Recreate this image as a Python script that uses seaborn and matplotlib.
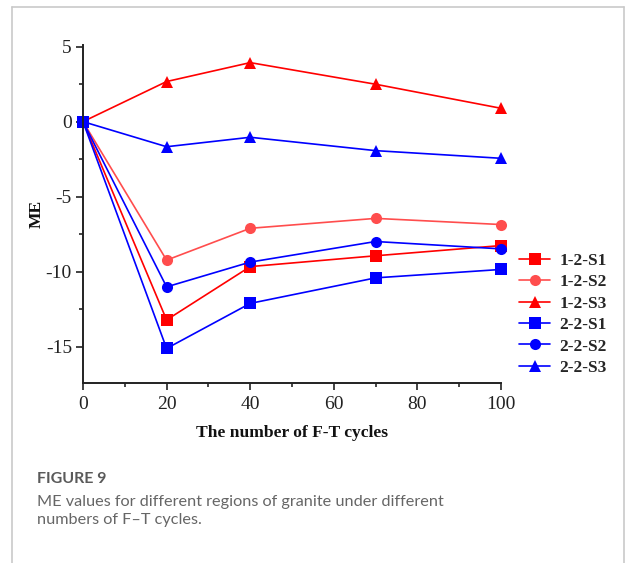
import numpy as np
import pandas as pd
import matplotlib
matplotlib.use("Agg")
import matplotlib.pyplot as plt
import seaborn as sns
from matplotlib.lines import Line2D
from matplotlib.ticker import MultipleLocator

# ---- data ----
cycles = [0, 20, 40, 70, 100]
s_12_S1 = [0, -13.2, -9.65, -8.93, -8.25]
s_12_S2 = [0, -9.22, -7.1, -6.44, -6.85]
s_12_S3 = [0, 2.67, 3.93, 2.49, 0.89]
s_22_S1 = [0, -15.1, -12.1, -10.4, -9.84]
s_22_S2 = [0, -11.0, -9.35, -7.98, -8.47]
s_22_S3 = [0, -1.67, -1.04, -1.93, -2.44]
labels = ["1-2-S1", "1-2-S2", "1-2-S3", "2-2-S1", "2-2-S2", "2-2-S3"]
series = [s_12_S1, s_12_S2, s_12_S3, s_22_S1, s_22_S2, s_22_S3]
x_ticks = [0, 20, 40, 60, 80, 100]
y_ticks = [5, 0, -5, -10, -15]
x_label = "The number of F-T cycles"
y_label = "ME"
fig_title = "FIGURE 9"
caption = "ME values for different regions of granite under different\nnumbers of F\u2013T cycles."

colors = ["#ff0000", "#ff4d4d", "#ff0000", "#0000ff", "#0000ff", "#0000ff"]
markers = ["s", "o", "^", "s", "o", "^"]

sns.set_style("ticks")
plt.rcParams["font.family"] = ["Liberation Serif", "DejaVu Serif"]
plt.rcParams["axes.unicode_minus"] = False

fig = plt.figure(figsize=(6.25, 5.63), dpi=100)
ax = fig.add_axes([0.1328, 0.3197, 0.8016 - 0.1328, 0.920 - 0.3197])

rows = []
for lab, vals in zip(labels, series):
    for c, v in zip(cycles, vals):
        rows.append({"cycles": c, "ME": v, "series": lab})
df = pd.DataFrame(rows)

for lab, col, mk in zip(labels, colors, markers):
    sub = df[df["series"] == lab]
    sns.lineplot(data=sub, x="cycles", y="ME", ax=ax, color=col, marker=mk,
                 markersize=8, markeredgewidth=0, linewidth=1.2,
                 label=lab, clip_on=False, legend=False)

ax.set_xlim(0, 100)
ax.set_ylim(-17.4, 5.1)
ax.set_xticks(x_ticks)
ax.set_yticks(y_ticks)
ax.xaxis.set_minor_locator(MultipleLocator(10))
ax.yaxis.set_minor_locator(MultipleLocator(2.5))
ax.tick_params(axis="both", which="major", direction="out", length=5, width=1.2,
               labelsize=14, colors="#222222", pad=3)
ax.tick_params(axis="x", which="major", pad=4)
ax.tick_params(axis="both", which="minor", direction="out", length=3, width=1.2)
for s in ["top", "right"]:
    ax.spines[s].set_visible(False)
for s in ["left", "bottom"]:
    ax.spines[s].set_linewidth(1.4)
    ax.spines[s].set_color("#222222")
ax.set_xlabel(x_label, fontsize=12.6, fontweight="bold", labelpad=9, color="#111111")
ax.set_ylabel(y_label, fontsize=12.6, fontweight="bold", labelpad=1, color="#111111")

handles = [Line2D([], [], color=c, marker=m, markersize=8, markeredgewidth=0,
                  linewidth=1.2) for c, m in zip(colors, markers)]
leg = fig.legend(handles, labels, loc="upper left", bbox_to_anchor=(0.820, 0.563),
                 frameon=False, prop={"family": "Liberation Serif", "weight": "bold", "size": 12.5},
                 handlelength=1.75, labelspacing=0.3, handletextpad=0.55, borderaxespad=0)

# caption
fig.text(37 / 625, 1 - 479 / 563, fig_title, fontsize=11.5, color="#5a5a5a",
         family=["Lato", "DejaVu Sans"], fontweight="bold", va="center", ha="left")
fig.text(37 / 625, 1 - 495 / 563, caption, fontsize=11.7, color="#666666",
         family=["Lato", "DejaVu Sans"], va="top", ha="left", linespacing=1.4)

# frame border
fc = "#c9c9c9"
fig.add_artist(Line2D([12 / 625, 12 / 625], [0, 1 - 7 / 563], color=fc, linewidth=1.2, transform=fig.transFigure))
fig.add_artist(Line2D([12 / 625, 624 / 625], [1 - 7 / 563, 1 - 7 / 563], color=fc, linewidth=1.2, transform=fig.transFigure))
fig.add_artist(Line2D([624 / 625, 624 / 625], [0, 1 - 7 / 563], color=fc, linewidth=1.2, transform=fig.transFigure))

fig.savefig("out.png", dpi=100)
